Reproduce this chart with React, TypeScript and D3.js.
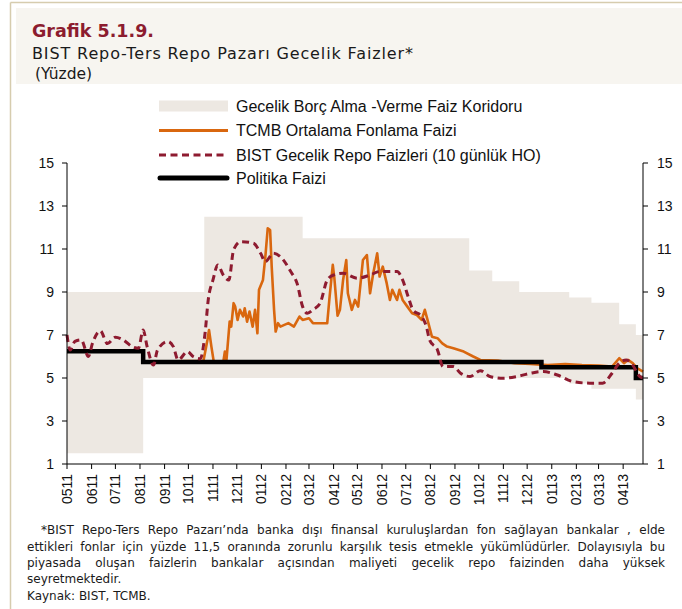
import React, { useEffect, useRef } from "react";
import * as d3 from "d3";

// ---------- DATA ----------
const corridorDates = ["2011-05-01","2011-08-05","2011-10-21","2012-02-22","2012-09-19","2012-10-18","2012-11-21","2013-01-23","2013-02-20","2013-03-27","2013-04-17","2013-04-26"];
const corridorUpper = [9, 9, 12.5, 11.5, 10, 9.5, 9, 8.75, 8.5, 7.5, 7, 7];
const corridorLower = [1.5, 5, 5, 5, 5, 5, 5, 4.75, 4.5, 4.5, 4, 4];

const policyDates = ["2011-05-01","2011-08-05","2012-12-19","2013-04-17","2013-04-26"];
const policyRate = [6.25, 5.75, 5.5, 5.0, 5.0];

const tcmbDates = ["2011-05-01","2011-08-04","2011-08-05","2011-10-20","2011-10-25","2011-10-27","2011-10-30","2011-11-02","2011-11-14","2011-11-16","2011-11-18","2011-11-22","2011-11-24","2011-11-27","2011-11-29","2011-12-02","2011-12-05","2011-12-09","2011-12-11","2011-12-14","2011-12-17","2011-12-21","2011-12-24","2011-12-27","2011-12-29","2012-01-03","2012-01-06","2012-01-09","2012-01-12","2012-01-14","2012-01-17","2012-01-19","2012-01-22","2012-01-25","2012-02-04","2012-02-11","2012-02-18","2012-02-22","2012-03-01","2012-03-06","2012-03-24","2012-03-27","2012-03-31","2012-04-02","2012-04-06","2012-04-09","2012-04-13","2012-04-17","2012-04-19","2012-04-24","2012-04-28","2012-05-02","2012-05-08","2012-05-13","2012-05-17","2012-05-21","2012-05-26","2012-05-29","2012-06-02","2012-06-07","2012-06-11","2012-06-14","2012-06-20","2012-06-23","2012-06-27","2012-07-03","2012-07-09","2012-07-15","2012-07-21","2012-07-25","2012-07-29","2012-08-03","2012-08-10","2012-08-16","2012-08-22","2012-08-30","2012-09-12","2012-09-24","2012-10-03","2012-10-25","2012-11-15","2012-12-05","2012-12-27","2013-01-18","2013-02-08","2013-03-01","2013-03-18","2013-03-27","2013-04-02","2013-04-07","2013-04-13","2013-04-19","2013-04-26"];
const tcmbRate = [6.25,6.25,5.75,5.8,6.77,7.23,6.46,5.75,5.75,6.23,5.84,7.62,7.39,8.48,8.32,7.7,8.17,7.86,8.24,7.62,8.09,7.39,8.17,7.08,9.1,9.56,10.64,11.96,11.88,10.18,8.17,7.16,7.55,7.39,7.55,7.39,7.86,7.7,7.78,7.55,7.55,8.78,10.26,9.64,7.9,8.17,9.56,10.49,8.94,8.17,8.63,8.32,10.49,10.72,8.94,9.87,10.8,9.72,10.18,9.4,8.63,9.1,8.63,9.1,8.63,8.32,8.01,7.93,7.7,8.17,7.62,6.92,6.85,6.61,6.46,6.38,6.23,6.0,5.84,5.81,5.69,5.65,5.6,5.65,5.6,5.58,5.53,5.92,5.69,5.84,5.69,5.45,5.3];

const bistDates = ["2011-05-01","2011-05-05","2011-05-11","2011-05-19","2011-05-28","2011-06-02","2011-06-08","2011-06-12","2011-06-21","2011-07-01","2011-07-11","2011-07-22","2011-07-30","2011-08-05","2011-08-10","2011-08-18","2011-08-23","2011-09-05","2011-09-12","2011-09-18","2011-09-30","2011-10-07","2011-10-16","2011-10-22","2011-10-26","2011-11-01","2011-11-07","2011-11-14","2011-11-21","2011-11-27","2011-12-06","2011-12-22","2011-12-31","2012-01-06","2012-01-16","2012-01-25","2012-02-07","2012-02-15","2012-02-22","2012-02-28","2012-03-06","2012-03-15","2012-03-24","2012-04-01","2012-04-13","2012-05-01","2012-05-17","2012-05-29","2012-06-20","2012-06-27","2012-07-04","2012-07-10","2012-07-21","2012-07-27","2012-07-31","2012-08-10","2012-08-17","2012-08-30","2012-09-08","2012-09-20","2012-10-03","2012-10-15","2012-11-01","2012-11-18","2012-12-05","2012-12-21","2013-01-08","2013-01-28","2013-02-18","2013-03-06","2013-03-18","2013-03-27","2013-04-05","2013-04-13","2013-04-22","2013-04-26"];
const bistRate = [7.0,6.3,6.7,6.77,6.0,6.6,7.08,7.2,6.6,6.9,6.77,6.46,6.38,7.23,6.46,5.6,6.3,6.7,6.46,5.84,6.23,6.0,5.9,7.08,8.63,9.56,10.26,9.79,9.56,10.96,11.34,11.27,10.8,10.41,10.8,10.64,9.95,9.4,8.32,8.01,8.17,8.48,9.56,9.79,9.87,9.64,9.79,9.95,9.95,9.56,8.78,8.17,7.86,7.39,6.77,6.3,5.53,5.53,5.22,5.07,5.34,5.07,4.99,5.07,5.22,5.3,5.14,4.83,4.76,4.76,5.22,5.69,5.84,5.6,5.07,5.0];

const yTicks = [1, 3, 5, 7, 9, 11, 13, 15];
const xStart = "2011-05-01";
const xEnd = "2013-04-26";

const titleText = "Grafik 5.1.9.";
const subtitleText = "BIST Repo-Ters Repo Pazarı Gecelik Faizler*";
const unitText = "(Yüzde)";
const legendLabels = [
  "Gecelik Borç Alma -Verme Faiz Koridoru",
  "TCMB Ortalama Fonlama Faizi",
  "BIST Gecelik Repo Faizleri (10 günlük HO)",
  "Politika Faizi",
];
const footnoteLines = [
  "*BIST Repo-Ters Repo Pazarı’nda banka dışı finansal kuruluşlardan fon sağlayan bankalar , elde",
  "ettikleri fonlar için yüzde 11,5 oranında zorunlu karşılık tesis etmekle yükümlüdürler. Dolayısıyla bu",
  "piyasada oluşan faizlerin bankalar açısından maliyeti gecelik repo faizinden daha yüksek",
  "seyretmektedir.",
  "Kaynak: BIST, TCMB.",
];

// ---------- STYLE ----------
const W = 682, H = 609;
const plot = { left: 67, right: 643, top: 163, bottom: 464 };
const C = {
  band: "#ede8e2",
  orange: "#d9670f",
  dashed: "#8e1b30",
  black: "#000000",
  title: "#8c1c2f",
  frame: "#d6ccae",
  box: "#f7f5f0",
};
const ARIAL = "'Liberation Sans', Arial, sans-serif";
const GOTHIC = "'DejaVu Sans', sans-serif";

export default function App() {
  const footRef = useRef<SVGGElement | null>(null);
  const parse = d3.timeParse("%Y-%m-%d");
  const x = d3.scaleTime().domain([parse(xStart)!, parse(xEnd)!]).range([plot.left, plot.right]);
  const y = d3.scaleLinear().domain([1, 15]).range([plot.bottom, plot.top]);

  const corridor = corridorDates.map((d, i) => ({ date: parse(d)!, hi: corridorUpper[i], lo: corridorLower[i] }));
  const policy = policyDates.map((d, i) => ({ date: parse(d)!, v: policyRate[i] }));
  const tcmb = tcmbDates.map((d, i) => ({ date: parse(d)!, v: tcmbRate[i] }));
  const bist = bistDates.map((d, i) => ({ date: parse(d)!, v: bistRate[i] }));

  const area = d3.area<any>().x((d) => x(d.date)).y0((d) => y(d.lo)).y1((d) => y(d.hi)).curve(d3.curveStepAfter);
  const stepLine = d3.line<any>().x((d) => x(d.date)).y((d) => y(d.v)).curve(d3.curveStepAfter);
  const line = d3.line<any>().x((d) => x(d.date)).y((d) => y(d.v));
  const smooth = d3.line<any>().x((d) => x(d.date)).y((d) => y(d.v)).curve(d3.curveMonotoneX);

  const months = d3.timeMonth.range(parse(xStart)!, parse(xEnd)!);
  const fmt = d3.timeFormat("%m%y");

  const footX = [41, 27, 27, 27, 27];
  const footRight = 665;
  const footY = [534, 551, 567, 583, 600];
  const justify = [true, true, true, false, false];

  useEffect(() => {
    const g = footRef.current;
    if (!g) return;
    const texts = g.querySelectorAll("text");
    texts.forEach((t, i) => {
      if (!justify[i]) return;
      const el = t as SVGTextElement;
      el.setAttribute("word-spacing", "0");
      const len = el.getComputedTextLength();
      const spaces = (footnoteLines[i].match(/ /g) || []).length;
      const target = footRight - footX[i];
      if (spaces > 0) el.setAttribute("word-spacing", String((target - len) / spaces));
    });
  }, []);

  const legendY = [106, 130.5, 155, 178];

  return (
    <div style={{ position: "absolute", left: 0, top: 0 }}>
      <svg width={W} height={H} style={{ display: "block", background: "#fff" }}>
        {/* frame */}
        <line x1={10.5} y1={2.5} x2={W} y2={2.5} stroke={C.frame} strokeWidth={1.5} />
        <line x1={10.5} y1={2.5} x2={10.5} y2={H} stroke={C.frame} strokeWidth={1.5} />
        <rect x={16} y={8} width={W - 16} height={76} fill={C.box} />

        {/* titles */}
        <text x={32} y={37} fontFamily={GOTHIC} fontWeight="bold" fontSize={17.5} fill={C.title}>{titleText}</text>
        <text x={32} y={59} fontFamily={GOTHIC} fontSize={16} fill="#1a1a1a" textLength={381} lengthAdjust="spacing">{subtitleText}</text>
        <text x={35} y={79} fontFamily={GOTHIC} fontSize={15.5} fill="#1a1a1a">{unitText}</text>

        {/* corridor */}
        <path d={area(corridor) || ""} fill={C.band} />

        {/* series */}
        <path d={line(tcmb) || ""} fill="none" stroke={C.orange} strokeWidth={2.6} strokeLinejoin="round" />
        <path d={stepLine(policy) || ""} fill="none" stroke={C.black} strokeWidth={4.5} />
        <path d={smooth(bist) || ""} fill="none" stroke={C.dashed} strokeWidth={3} strokeDasharray="7 4.5" />

        {/* axes */}
        <g fontFamily={ARIAL} fontSize={14} fill="#111">
          <line x1={plot.left} y1={plot.top} x2={plot.left} y2={plot.bottom} stroke="#000" />
          <line x1={plot.right} y1={plot.top} x2={plot.right} y2={plot.bottom} stroke="#000" />
          <line x1={plot.left} y1={plot.bottom} x2={plot.right} y2={plot.bottom} stroke="#000" />
          {yTicks.map((t) => (
            <g key={"y" + t}>
              <line x1={plot.left - 5} x2={plot.left} y1={y(t)} y2={y(t)} stroke="#000" />
              <line x1={plot.right} x2={plot.right + 5} y1={y(t)} y2={y(t)} stroke="#000" />
              <text x={54} y={y(t)} textAnchor="end" dominantBaseline="central">{t}</text>
              <text x={657} y={y(t)} textAnchor="start" dominantBaseline="central">{t}</text>
            </g>
          ))}
          {months.map((m) => (
            <g key={"x" + m.getTime()}>
              <line x1={x(m)} x2={x(m)} y1={plot.bottom} y2={plot.bottom + 5} stroke="#000" />
              <text transform={`translate(${x(m)},${plot.bottom + 10}) rotate(-90)`} textAnchor="end" dominantBaseline="central">{fmt(m)}</text>
            </g>
          ))}
        </g>

        {/* legend */}
        <g fontFamily={ARIAL} fontSize={16} fill="#111">
          <rect x={159} y={legendY[0] - 5.5} width={69} height={11} fill={C.band} />
          <line x1={159} x2={228} y1={legendY[1]} y2={legendY[1]} stroke={C.orange} strokeWidth={3} />
          <line x1={159} x2={228} y1={legendY[2]} y2={legendY[2]} stroke={C.dashed} strokeWidth={3} strokeDasharray="7 4.5" />
          <line x1={160} x2={227} y1={legendY[3]} y2={legendY[3]} stroke={C.black} strokeWidth={5} strokeLinecap="round" />
          {legendLabels.map((l, i) => (
            <text key={l} x={236} y={legendY[i]} dominantBaseline="central">{l}</text>
          ))}
        </g>

        {/* footnote */}
        <g ref={footRef} fontFamily={GOTHIC} fontSize={12} fill="#1a1a1a">
          {footnoteLines.map((l, i) => (
            <text key={i} x={footX[i]} y={footY[i]} style={{ whiteSpace: "pre" }}>{l}</text>
          ))}
        </g>
      </svg>
    </div>
  );
}
